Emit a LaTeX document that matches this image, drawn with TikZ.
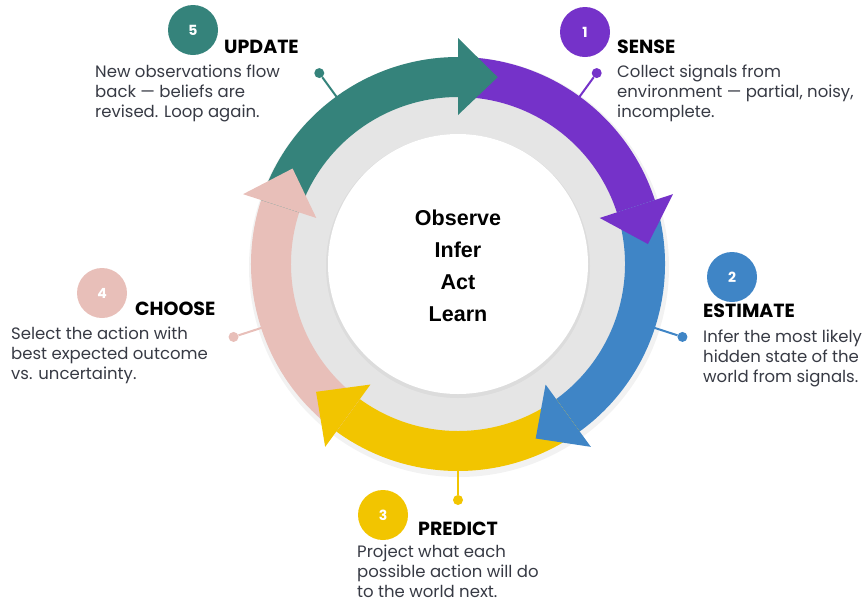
\documentclass[tikz,border=0pt]{standalone}
\usepackage{fontspec}
\setmainfont{Poppins}
\newfontfamily\hubfont{Liberation Sans}
\usetikzlibrary{positioning}

\definecolor{updc}{RGB}{53,131,123}
\definecolor{sensec}{RGB}{117,50,201}
\definecolor{estc}{RGB}{63,133,198}
\definecolor{predc}{RGB}{242,197,0}
\definecolor{choosec}{RGB}{232,191,185}
\definecolor{discgray}{RGB}{229,229,229}
\definecolor{bodytext}{RGB}{55,58,68}

\tikzset{
  badge/.style={circle,minimum size=50pt,inner sep=0pt,text=white,font=\fontsize{14}{14}\selectfont\bfseries},
  steptitle/.style={anchor=base west,inner sep=0pt,font=\fontsize{19}{19}\selectfont\bfseries},
  stepdesc/.style={anchor=base west,inner sep=0pt,align=left,text=bodytext,font=\fontsize{16.5}{20}\selectfont},
  leaddot/.style={circle,minimum size=10pt,inner sep=0pt},
  lead/.style={line width=2pt},
  hubtext/.style={align=center,inner sep=0pt,font=\hubfont\bfseries\fontsize{21.5}{32}\selectfont},
}

\begin{document}
\begin{tikzpicture}[x=1pt,y=1pt]
\useasboundingbox (0,0) rectangle (867,-603);

% cycle ring
\begin{scope}[shift={(458,-264)}]
  \fill[black,opacity=0.05] (1,-3) circle[radius=210];
  \fill[discgray] (0,0) circle[radius=172];
  \fill[black,opacity=0.04] (0,-2) circle[radius=132];
  \fill[white] (0,0) circle[radius=130];
  % leads to the step dots
  \foreach \m/\col/\k in {54/sensec/1, -18/estc/2, -90/predc/3, 198/choosec/4, 126/updc/5} {
    \coordinate (r\k) at (\m:200);
    \node[leaddot,fill=\col] (d\k) at (\m:236) {};
    \draw[lead,\col] (r\k) -- (d\k);
  }
  % bands
  \foreach \s/\col in {90/sensec, 18/estc, -54/predc, -126/choosec, 162/updc}
    \fill[\col] (\s:167) arc[start angle=\s, end angle=\s-72, radius=167]
      -- (\s-72:207) arc[start angle=\s-72, end angle=\s, radius=207] -- cycle;
  % heads
  \foreach \s/\col in {90/sensec, 18/estc, -54/predc, -126/choosec, 162/updc}
    \fill[\col] (\s-72:149) -- (\s-72:226) -- (\s-84:191) -- cycle;
  \node[hubtext] (hub) at (0,-2) {Observe\\Infer\\Act\\Learn};
\end{scope}

% steps (desc anchored at its last baseline)
\node[badge,fill=sensec] (b1) at (585,-32) {1};
\node[steptitle] (t1) at (617,-53) {SENSE};
\node[stepdesc] (s1) at (617,-117) {Collect signals from\\environment --- partial, noisy,\\incomplete.};

\node[badge,fill=estc] (b2) at (732,-277) {2};
\node[steptitle] (t2) at (703,-317) {ESTIMATE};
\node[stepdesc] (s2) at (703,-382) {Infer the most likely\\hidden state of the\\world from signals.};

\node[badge,fill=predc] (b3) at (383,-515) {3};
\node[steptitle] (t3) at (418,-535) {PREDICT};
\node[stepdesc] (s3) at (357,-597) {Project what each\\possible action will do\\to the world next.};

\node[badge,fill=choosec] (b4) at (102,-293) {4};
\node[steptitle] (t4) at (135,-315) {CHOOSE};
\node[stepdesc] (s4) at (11,-379) {Select the action with\\best expected outcome\\vs. uncertainty.};

\node[badge,fill=updc] (b5) at (193,-30) {5};
\node[steptitle] (t5) at (224,-53) {UPDATE};
\node[stepdesc] (s5) at (95,-117) {New observations flow\\back --- beliefs are\\revised. Loop again.};
\end{tikzpicture}
\end{document}
